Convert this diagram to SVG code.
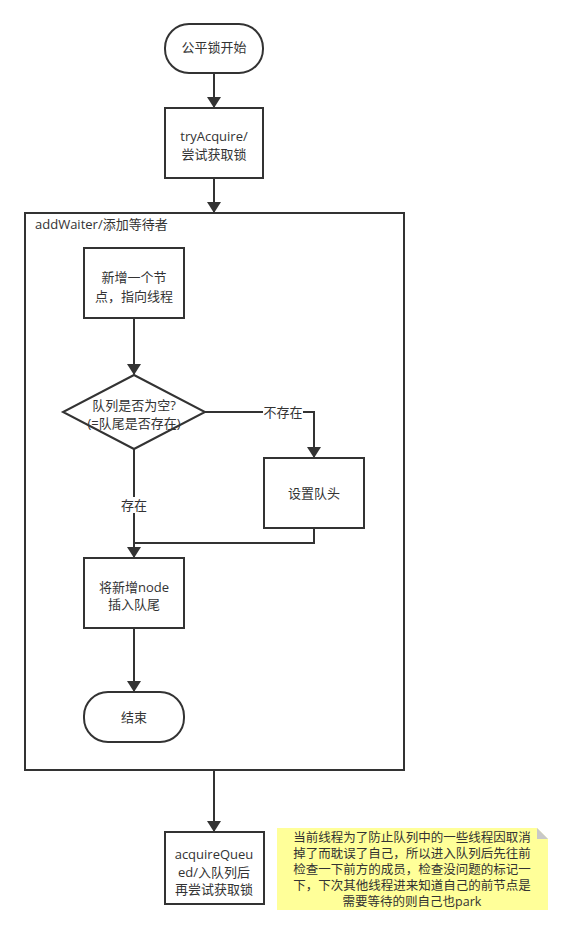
<svg xmlns="http://www.w3.org/2000/svg" width="573" height="935" viewBox="0 0 573 935">
<defs>
<marker id="ah" markerWidth="12" markerHeight="14" refX="10" refY="7" orient="auto" markerUnits="userSpaceOnUse">
<path d="M0,0 L11,7 L0,14 Z" fill="#333"/>
</marker>
<style>
.s{fill:#fff;stroke:#333;stroke-width:2}
.c{fill:none;stroke:#333;stroke-width:2}
text{font-family:"Open Sans","Noto Sans CJK SC",sans-serif;font-size:13px;fill:#333}
.m{text-anchor:middle}
.n{font-size:12.5px;text-anchor:middle}
.lb{fill:#fff;stroke:none}
</style>
</defs>
<rect width="573" height="935" fill="#fff"/>
<g id="container">
<rect x="25" y="213" width="379" height="557" class="s" fill="none"/>
<text x="35" y="229">addWaiter/添加等待者</text>
</g>
<g id="connectors">
<path d="M214,73 L214,107" class="c" marker-end="url(#ah)"/>
<path d="M214,178 L214,212" class="c" marker-end="url(#ah)"/>
<path d="M134,318 L134,374" class="c" marker-end="url(#ah)"/>
<path d="M205,412 L314,412 L314,457" class="c" marker-end="url(#ah)"/>
<path d="M314,528 L314,543 L134,543" class="c"/>
<path d="M134,449 L134,557" class="c" marker-end="url(#ah)"/>
<path d="M134,628 L134,691" class="c" marker-end="url(#ah)"/>
<path d="M214,770 L214,831" class="c" marker-end="url(#ah)"/>
<rect x="263" y="404" width="40" height="16" class="lb"/>
<text x="283" y="417" class="m">不存在</text>
<rect x="119" y="497" width="30" height="16" class="lb"/>
<text x="134" y="510" class="m">存在</text>
</g>
<g id="start">
<rect x="165" y="24" width="98" height="49" rx="24" class="s"/>
<text x="214" y="52" class="m">公平锁开始</text>
</g>
<g id="tryAcquire">
<rect x="165" y="108" width="98" height="70" class="s"/>
<text x="214" y="141" class="m">tryAcquire/</text>
<text x="214" y="159" class="m">尝试获取锁</text>
</g>
<g id="newNode">
<rect x="84" y="248" width="100" height="70" class="s"/>
<text x="134" y="282" class="m">新增一个节</text>
<text x="134" y="301" class="m">点，指向线程</text>
</g>
<g id="decision">
<polygon points="134,375 205,412 134,449 63,412" class="s"/>
<text x="134" y="410" class="m">队列是否为空?</text>
<text x="134" y="428" class="m">(=队尾是否存在)</text>
</g>
<g id="setHead">
<rect x="264" y="458" width="100" height="70" class="s"/>
<text x="314" y="498" class="m">设置队头</text>
</g>
<g id="insertTail">
<rect x="84" y="558" width="100" height="70" class="s"/>
<text x="134" y="592" class="m">将新增node</text>
<text x="134" y="609" class="m">插入队尾</text>
</g>
<g id="end">
<rect x="84" y="692" width="100" height="50" rx="24" class="s"/>
<text x="134" y="722" class="m">结束</text>
</g>
<g id="acquireQueued">
<rect x="165" y="832" width="99" height="72" class="s"/>
<text x="214" y="859" class="m">acquireQueu</text>
<text x="214" y="877" class="m">ed/入队列后</text>
<text x="214" y="894" class="m">再尝试获取锁</text>
</g>
<g id="note">
<path d="M277,828 L537,828 L548,839 L548,910 L277,910 Z" fill="#ffff99"/>
<path d="M537,828 L548,839 L537,839 Z" fill="#c8c8c8"/>
<text x="412" y="842" class="n">当前线程为了防止队列中的一些线程因取消</text>
<text x="412" y="858" class="n">掉了而耽误了自己，所以进入队列后先往前</text>
<text x="412" y="874" class="n">检查一下前方的成员，检查没问题的标记一</text>
<text x="412" y="890" class="n">下，下次其他线程进来知道自己的前节点是</text>
<text x="412" y="906" class="n">需要等待的则自己也park</text>
</g>
</svg>
